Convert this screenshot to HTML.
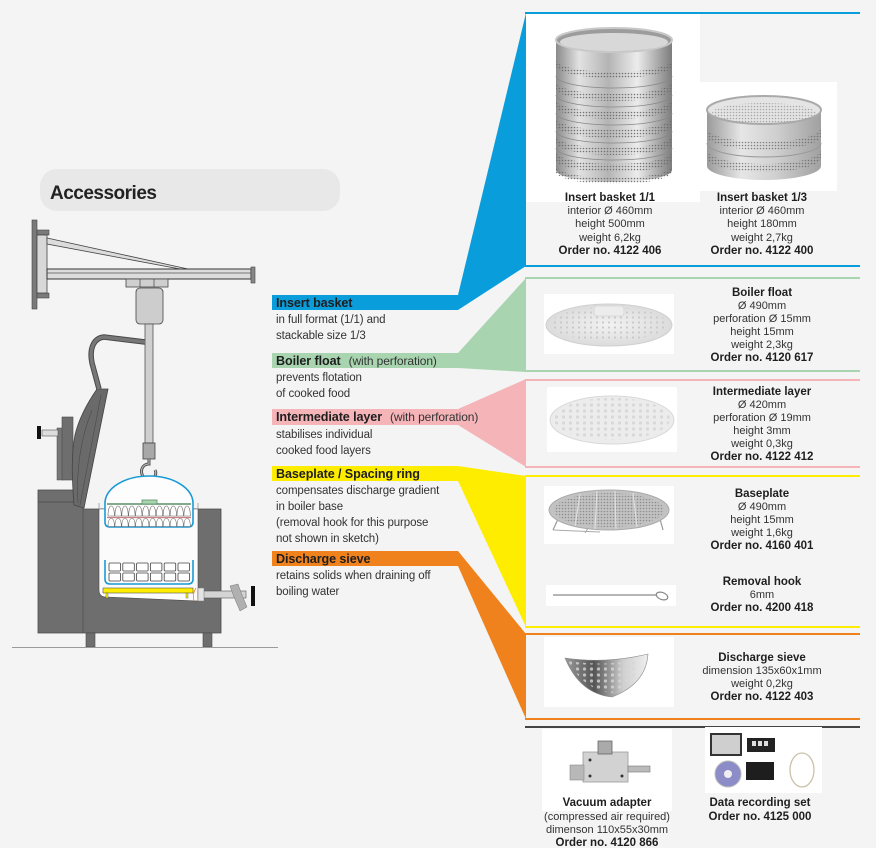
<!DOCTYPE html>
<html><head><meta charset="utf-8"><style>
html,body{margin:0;padding:0;background:#f4f4f4;}
svg{display:block;}
text{font-family:"Liberation Sans",Arial,sans-serif;}
.b{font-weight:bold;fill:#1e1e1e;}
.r{fill:#333;}
</style></head><body>
<svg width="876" height="848" viewBox="0 0 876 848" xmlns="http://www.w3.org/2000/svg">
<defs>
<pattern id="dots" width="3" height="3" patternUnits="userSpaceOnUse"><circle cx="1.5" cy="1.5" r="0.8" fill="#6a6a6a"/></pattern>
<pattern id="holes" width="6" height="5" patternUnits="userSpaceOnUse"><circle cx="3" cy="2.5" r="1.1" fill="#c9c9c9"/></pattern>
<pattern id="holes2" width="7" height="6" patternUnits="userSpaceOnUse"><circle cx="3.5" cy="3" r="1.6" fill="#d6d6d6"/></pattern>
<linearGradient id="metal" x1="0" y1="0" x2="1" y2="0">
<stop offset="0" stop-color="#8a8a8a"/><stop offset="0.2" stop-color="#e2e2e2"/><stop offset="0.45" stop-color="#b4b4b4"/><stop offset="0.7" stop-color="#ececec"/><stop offset="1" stop-color="#7c7c7c"/></linearGradient>
<linearGradient id="metal2" x1="0" y1="0" x2="1" y2="0">
<stop offset="0" stop-color="#9a9a9a"/><stop offset="0.3" stop-color="#e6e6e6"/><stop offset="0.6" stop-color="#d0d0d0"/><stop offset="1" stop-color="#a0a0a0"/></linearGradient>
<linearGradient id="sieve" x1="0" y1="0" x2="1" y2="0">
<stop offset="0" stop-color="#9a9a9a"/><stop offset="0.35" stop-color="#555"/><stop offset="0.7" stop-color="#cfcfcf"/><stop offset="1" stop-color="#eee"/></linearGradient>
<radialGradient id="disc" cx="0.5" cy="0.5" r="0.5"><stop offset="0" stop-color="#f2f2f2"/><stop offset="1" stop-color="#dcdcdc"/></radialGradient>
<path id="egg" d="M0,10 C0,3 1.6,0 3.2,0 C4.8,0 6.4,3 6.4,10 Z" fill="#fff" stroke="#666" stroke-width="0.6"/>
<path id="egg2" d="M0,8 C0,2 1.6,0 3.2,0 C4.8,0 6.4,2 6.4,8 Z" fill="#fff" stroke="#666" stroke-width="0.6"/>
</defs>

<!-- Heading -->
<rect x="40" y="169" width="300" height="42" rx="17" fill="#e8e8e8"/>
<text x="50" y="199" font-size="19" font-weight="bold" fill="#222" letter-spacing="-0.5">Accessories</text>

<!-- Crane -->
<rect x="32" y="220" width="5" height="89" fill="#7a7a7a" stroke="#444" stroke-width="0.6"/>
<rect x="37" y="230" width="12" height="5" fill="#7a7a7a" stroke="#444" stroke-width="0.6"/>
<rect x="37" y="293" width="12" height="5" fill="#7a7a7a" stroke="#444" stroke-width="0.6"/>
<rect x="37" y="235" width="10" height="58" fill="#d8d8d8" stroke="#444" stroke-width="0.8"/>
<polygon points="47,238 47,244 180,269 188,269" fill="#dcdcdc" stroke="#444" stroke-width="0.8"/>
<rect x="47" y="269" width="204" height="10" fill="#dcdcdc" stroke="#333" stroke-width="1"/>
<line x1="47" y1="273" x2="251" y2="273" stroke="#555" stroke-width="0.7"/>
<rect x="251" y="267" width="4" height="16" fill="#888" stroke="#444" stroke-width="0.6"/>
<rect x="126" y="279" width="42" height="8" fill="#cfcfcf" stroke="#444" stroke-width="0.8"/>
<line x1="140" y1="279" x2="140" y2="287" stroke="#444" stroke-width="0.7"/>
<line x1="154" y1="279" x2="154" y2="287" stroke="#444" stroke-width="0.7"/>
<rect x="136" y="288" width="27" height="36" rx="4" fill="#cdcdcd" stroke="#444" stroke-width="0.8"/>
<rect x="145" y="324" width="8" height="119" fill="#cfcfcf" stroke="#555" stroke-width="0.8"/>
<rect x="143" y="443" width="12" height="16" fill="#a8a8a8" stroke="#444" stroke-width="0.8"/>
<path d="M149,459 V464 C139,464 139,479 149,479 C155,479 157,474 155,470" fill="none" stroke="#555" stroke-width="3"/>
<path d="M149,459 V464 C139,464 139,479 149,479 C155,479 157,474 155,470" fill="none" stroke="#bbb" stroke-width="1"/>

<!-- Machine body -->
<path d="M38,490 H83 V509 H221 V633 H38 Z" fill="#6e6e6e" stroke="#4a4a4a" stroke-width="0.8"/>
<line x1="38" y1="502" x2="83" y2="502" stroke="#4a4a4a" stroke-width="0.7"/>
<line x1="83" y1="502" x2="83" y2="633" stroke="#4a4a4a" stroke-width="0.7"/>
<path d="M99,509 V590 Q99,597 106,597 L198,601 V509 Z" fill="#fbfbfb" stroke="#4a4a4a" stroke-width="0.6"/>
<line x1="99" y1="503" x2="99" y2="509" stroke="#999" stroke-width="0.8"/>
<line x1="198" y1="503" x2="198" y2="509" stroke="#999" stroke-width="0.8"/>
<rect x="86" y="633" width="9" height="14" fill="#6e6e6e" stroke="#4a4a4a" stroke-width="0.6"/>
<rect x="203" y="633" width="9" height="14" fill="#6e6e6e" stroke="#4a4a4a" stroke-width="0.6"/>
<line x1="12" y1="647.5" x2="278" y2="647.5" stroke="#9a9a9a" stroke-width="1"/>
<!-- lid -->
<rect x="57" y="428" width="6" height="52" fill="#777" stroke="#4a4a4a" stroke-width="0.5"/>
<rect x="62" y="417" width="11" height="63" fill="#6e6e6e" stroke="#4a4a4a" stroke-width="0.6"/>
<path d="M97,389 L108,389 L84,508 L74,505 C72,480 71,455 75,435 C79,418 88,402 97,389 Z" fill="#6a6a6a" stroke="#444" stroke-width="0.8"/>
<path d="M78,503 C76,470 80,440 92,410" fill="none" stroke="#4a4a4a" stroke-width="0.6"/>
<path d="M80,505 L101,395" fill="none" stroke="#4a4a4a" stroke-width="0.6"/>
<path d="M99,389 L92,363 C89,348 94,338 104,337 L145,342" fill="none" stroke="#4a4a4a" stroke-width="5.5"/>
<path d="M99,389 L92,363 C89,348 94,338 104,337 L145,342" fill="none" stroke="#777" stroke-width="3.5"/>
<!-- left tap -->
<rect x="42" y="430" width="16" height="6" fill="#ddd" stroke="#555" stroke-width="0.6"/>
<rect x="37" y="426" width="4" height="13" fill="#111"/>
<!-- right valve -->
<rect x="198" y="591" width="48" height="7" fill="#d4d4d4" stroke="#555" stroke-width="0.6"/>
<rect x="198" y="588" width="6" height="13" fill="#e4e4e4" stroke="#777" stroke-width="0.5"/>
<polygon points="230,586 238,584 242,595 247,607 240,611 234,597" fill="#b0b0b0" stroke="#777" stroke-width="0.5"/>
<rect x="251" y="586" width="4" height="20" fill="#111"/>
<!-- upper basket -->
<path d="M105,503 A44,27 0 0 1 193,503 V522 Q193,527 188,527 H110 Q105,527 105,522 Z" fill="#fdfdfd" stroke="#1a9ad6" stroke-width="1.6"/>
<line x1="107" y1="504" x2="191" y2="504" stroke="#5b8f66" stroke-width="1.6"/>
<rect x="142" y="500" width="15" height="4" fill="#a8d5b0" stroke="#5b8f66" stroke-width="0.8"/>
<use href="#egg" x="108" y="506"/><use href="#egg" x="114.9" y="506"/><use href="#egg" x="121.8" y="506"/><use href="#egg" x="128.7" y="506"/><use href="#egg" x="135.6" y="506"/><use href="#egg" x="142.5" y="506"/><use href="#egg" x="149.4" y="506"/><use href="#egg" x="156.3" y="506"/><use href="#egg" x="163.2" y="506"/><use href="#egg" x="170.1" y="506"/><use href="#egg" x="177" y="506"/><use href="#egg" x="183.9" y="506"/>
<line x1="107" y1="517.5" x2="191" y2="517.5" stroke="#d27f84" stroke-width="1.2"/>
<use href="#egg2" x="108" y="518.5"/><use href="#egg2" x="114.9" y="518.5"/><use href="#egg2" x="121.8" y="518.5"/><use href="#egg2" x="128.7" y="518.5"/><use href="#egg2" x="135.6" y="518.5"/><use href="#egg2" x="142.5" y="518.5"/><use href="#egg2" x="149.4" y="518.5"/><use href="#egg2" x="156.3" y="518.5"/><use href="#egg2" x="163.2" y="518.5"/><use href="#egg2" x="170.1" y="518.5"/><use href="#egg2" x="177" y="518.5"/><use href="#egg2" x="183.9" y="518.5"/>
<!-- lower basket -->
<path d="M105,560 V579 Q105,584 110,584 H188 Q193,584 193,579 V560" fill="none" stroke="#1a9ad6" stroke-width="1.6"/>
<g fill="#fff" stroke="#444" stroke-width="0.8">
<rect x="109" y="563" width="11.5" height="8" rx="1"/><rect x="122.8" y="563" width="11.5" height="8" rx="1"/><rect x="136.6" y="563" width="11.5" height="8" rx="1"/><rect x="150.4" y="563" width="11.5" height="8" rx="1"/><rect x="164.2" y="563" width="11.5" height="8" rx="1"/><rect x="178" y="563" width="11.5" height="8" rx="1"/>
<rect x="109" y="573" width="11.5" height="8" rx="1"/><rect x="122.8" y="573" width="11.5" height="8" rx="1"/><rect x="136.6" y="573" width="11.5" height="8" rx="1"/><rect x="150.4" y="573" width="11.5" height="8" rx="1"/><rect x="164.2" y="573" width="11.5" height="8" rx="1"/><rect x="178" y="573" width="11.5" height="8" rx="1"/>
</g>
<rect x="103" y="588" width="90" height="5" fill="#ffed00" stroke="#555" stroke-width="0.6"/>
<rect x="106" y="593" width="2" height="5" fill="#ffed00" stroke="#555" stroke-width="0.4"/>
<rect x="186" y="593" width="2" height="5" fill="#ffed00" stroke="#555" stroke-width="0.4"/>
<path d="M196,588 Q192,594 194,601" fill="none" stroke="#f0821e" stroke-width="0.8"/>

<!-- Connectors -->
<rect x="272" y="295" width="186" height="15" fill="#0a9ddb"/>
<polygon points="458,295 526,13 526,266 458,310" fill="#0a9ddb"/>
<rect x="272" y="353" width="186" height="15" fill="#a8d5b0"/>
<polygon points="458,353 526,278 526,372 458,368" fill="#a8d5b0"/>
<rect x="272" y="409" width="186" height="16" fill="#f4b4b8"/>
<polygon points="458,409 526,379 526,467 458,425" fill="#f4b4b8"/>
<rect x="272" y="466" width="186" height="15" fill="#ffed00"/>
<polygon points="458,466 526,476 526,627 458,481" fill="#ffed00"/>
<rect x="272" y="551" width="186" height="15" fill="#f0821e"/>
<polygon points="458,551 526,634 526,719 458,566" fill="#f0821e"/>

<!-- Panel borders -->
<rect x="525" y="12" width="335" height="2" fill="#0a9ddb"/><rect x="525" y="265" width="335" height="2" fill="#0a9ddb"/>
<rect x="525" y="277" width="335" height="2" fill="#a8d5b0"/><rect x="525" y="370" width="335" height="2" fill="#a8d5b0"/>
<rect x="525" y="379" width="335" height="2" fill="#f4b4b8"/><rect x="525" y="466" width="335" height="2" fill="#f4b4b8"/>
<rect x="525" y="475" width="335" height="2" fill="#ffed00"/><rect x="525" y="626" width="335" height="2" fill="#ffed00"/>
<rect x="525" y="633" width="335" height="2" fill="#f0821e"/><rect x="525" y="718" width="335" height="2" fill="#f0821e"/>
<rect x="525" y="726" width="335" height="2" fill="#444"/>

<!-- Left labels -->
<g font-size="11.5" class="r" letter-spacing="-0.1">
<text x="276" y="307" class="b" font-size="12.6">Insert basket</text>
<text x="276" y="323">in full format (1/1) and</text>
<text x="276" y="339">stackable size 1/3</text>
<text x="276" y="365"><tspan class="b" font-size="12.6">Boiler float</tspan><tspan dx="8" font-size="12">(with perforation)</tspan></text>
<text x="276" y="381">prevents flotation</text>
<text x="276" y="397">of cooked food</text>
<text x="276" y="421"><tspan class="b" font-size="12.6">Intermediate layer</tspan><tspan dx="8" font-size="12">(with perforation)</tspan></text>
<text x="276" y="438">stabilises individual</text>
<text x="276" y="454">cooked food layers</text>
<text x="276" y="478" class="b" font-size="12.6">Baseplate / Spacing ring</text>
<text x="276" y="494">compensates discharge gradient</text>
<text x="276" y="510">in boiler base</text>
<text x="276" y="526">(removal hook for this purpose</text>
<text x="276" y="542">not shown in sketch)</text>
<text x="276" y="563" class="b" font-size="12.6">Discharge sieve</text>
<text x="276" y="579">retains solids when draining off</text>
<text x="276" y="595">boiling water</text>
</g>

<!-- Images -->
<rect x="526" y="14" width="174" height="188" fill="#fff"/>
<rect x="700" y="82" width="137" height="109" fill="#fff"/>
<!-- basket 1/1 -->
<path d="M556,40 V170 A58,12 0 0 0 672,170 V40 Z" fill="url(#metal)"/>
<ellipse cx="614" cy="40" rx="58" ry="12" fill="#9c9c9c" stroke="#c8c8c8" stroke-width="2"/>
<ellipse cx="614" cy="42" rx="54" ry="9" fill="#d8d8d8"/>
<g fill="url(#dots)" opacity="0.9">
<path d="M556,60 A58,12 0 0 0 672,60 V66 A58,12 0 0 1 556,66 Z"/>
<path d="M556,82 A58,12 0 0 0 672,82 V89 A58,12 0 0 1 556,89 Z"/>
<path d="M556,100 A58,12 0 0 0 672,100 V107 A58,12 0 0 1 556,107 Z"/>
<path d="M556,118 A58,12 0 0 0 672,118 V126 A58,12 0 0 1 556,126 Z"/>
<path d="M556,136 A58,12 0 0 0 672,136 V143 A58,12 0 0 1 556,143 Z"/>
<path d="M556,152 A58,12 0 0 0 672,152 V160 A58,12 0 0 1 556,160 Z"/>
<path d="M556,166 A58,12 0 0 0 672,166 V172 A58,12 0 0 1 556,172 Z"/>
</g>
<g fill="none" stroke="#888" stroke-width="0.8">
<path d="M556,76 A58,12 0 0 0 672,76"/><path d="M556,95 A58,12 0 0 0 672,95"/><path d="M556,113 A58,12 0 0 0 672,113"/><path d="M556,131 A58,12 0 0 0 672,131"/><path d="M556,148 A58,12 0 0 0 672,148"/>
</g>
<!-- basket 1/3 -->
<path d="M707,110 V166 A57,14 0 0 0 821,166 V110 Z" fill="url(#metal2)"/>
<ellipse cx="764" cy="110" rx="57" ry="14" fill="#e4e4e4" stroke="#aaa" stroke-width="2"/>
<ellipse cx="764" cy="113" rx="52" ry="10" fill="url(#dots)" opacity="0.5"/>
<g fill="url(#dots)" opacity="0.8">
<path d="M707,128 A57,14 0 0 0 821,128 V136 A57,14 0 0 1 707,136 Z"/>
<path d="M707,150 A57,14 0 0 0 821,150 V158 A57,14 0 0 1 707,158 Z"/>
</g>
<path d="M707,143 A57,14 0 0 0 821,143" fill="none" stroke="#999" stroke-width="1"/>
<!-- boiler float -->
<rect x="544" y="294" width="130" height="60" fill="#fff"/>
<ellipse cx="609" cy="325" rx="63" ry="21" fill="url(#disc)" stroke="#d0d0d0" stroke-width="1"/>
<ellipse cx="609" cy="324" rx="58" ry="17" fill="url(#holes)"/>
<rect x="594" y="306" width="30" height="10" rx="3" fill="#ececec" stroke="#d4d4d4" stroke-width="0.8"/>
<!-- intermediate layer -->
<rect x="547" y="387" width="130" height="65" fill="#fff"/>
<ellipse cx="612" cy="420" rx="62" ry="24" fill="#ececec" stroke="#d8d8d8" stroke-width="1"/>
<ellipse cx="612" cy="419" rx="58" ry="21" fill="url(#holes2)" opacity="0.9"/>
<!-- baseplate -->
<rect x="544" y="486" width="130" height="58" fill="#fff"/>
<line x1="558" y1="519" x2="553" y2="530" stroke="#999" stroke-width="1.2"/>
<line x1="660" y1="519" x2="663" y2="530" stroke="#999" stroke-width="1.2"/>
<line x1="590" y1="525" x2="585" y2="533" stroke="#aaa" stroke-width="1"/>
<line x1="553" y1="530" x2="600" y2="532" stroke="#aaa" stroke-width="1"/>
<ellipse cx="609" cy="510" rx="60" ry="20" fill="#c2c2c2" stroke="#aaa" stroke-width="1"/>
<ellipse cx="609" cy="510" rx="55" ry="17" fill="url(#dots)" opacity="0.6"/>
<g stroke="#e0e0e0" stroke-width="1.2"><line x1="580" y1="494" x2="575" y2="526"/><line x1="597" y1="491" x2="595" y2="529"/><line x1="615" y1="491" x2="616" y2="529"/><line x1="633" y1="493" x2="637" y2="527"/></g>
<!-- removal hook -->
<rect x="546" y="585" width="130" height="21" fill="#fff"/>
<line x1="553" y1="595" x2="657" y2="595" stroke="#8a8a8a" stroke-width="1.2"/>
<ellipse cx="662" cy="596" rx="6" ry="3.5" fill="none" stroke="#8a8a8a" stroke-width="1.2" transform="rotate(20 662 596)"/>
<!-- discharge sieve -->
<rect x="544" y="637" width="130" height="70" fill="#fff"/>
<path d="M565,658 Q606,664 648,654 Q646,684 612,697 Q580,694 565,658 Z" fill="url(#sieve)" stroke="#888" stroke-width="0.6"/>
<path d="M568,661 Q606,667 640,659 Q636,684 612,693 Q584,690 568,661 Z" fill="url(#holes2)" opacity="0.8"/>
<!-- vacuum adapter -->
<rect x="542" y="729" width="130" height="82" fill="#fff"/>
<rect x="583" y="752" width="45" height="30" fill="#d2d2d2" stroke="#999" stroke-width="0.8"/>
<rect x="570" y="765" width="14" height="15" fill="#b8b8b8" stroke="#888" stroke-width="0.6"/>
<rect x="628" y="766" width="22" height="6" fill="#bbb" stroke="#777" stroke-width="0.6"/>
<rect x="598" y="741" width="14" height="13" fill="#aaa" stroke="#666" stroke-width="0.8"/>
<circle cx="590" cy="760" r="1.5" fill="#333"/><circle cx="590" cy="776" r="1.5" fill="#333"/><circle cx="622" cy="776" r="1.5" fill="#333"/>
<!-- data set -->
<rect x="705" y="727" width="117" height="66" fill="#fff"/>
<rect x="711" y="734" width="30" height="21" fill="#cfcfcf" stroke="#333" stroke-width="2"/>
<rect x="747" y="738" width="28" height="14" fill="#222"/>
<rect x="752" y="741" width="4" height="5" fill="#ddd"/><rect x="758" y="741" width="4" height="5" fill="#ddd"/><rect x="764" y="741" width="4" height="5" fill="#ddd"/>
<circle cx="728" cy="774" r="13" fill="#8c8cc8" stroke="#bbb" stroke-width="1"/>
<circle cx="728" cy="774" r="4" fill="#eee"/>
<rect x="746" y="762" width="28" height="18" fill="#1e1e1e"/>
<ellipse cx="802" cy="770" rx="12" ry="17" fill="none" stroke="#c9c1a8" stroke-width="1.3"/>

<!-- Right panel texts -->
<g text-anchor="middle" class="r" font-size="11">
<text x="610" y="201" class="b" font-size="11.5">Insert basket  1/1</text>
<text x="610" y="214">interior Ø 460mm</text>
<text x="610" y="227">height  500mm</text>
<text x="610" y="241">weight  6,2kg</text>
<text x="610" y="254" class="b" font-size="11.5">Order no. 4122 406</text>
<text x="762" y="201" class="b" font-size="11.5">Insert basket  1/3</text>
<text x="762" y="214">interior  Ø 460mm</text>
<text x="762" y="227">height 180mm</text>
<text x="762" y="241">weight 2,7kg</text>
<text x="762" y="254" class="b" font-size="11.5">Order no. 4122 400</text>

<text x="762" y="296" class="b" font-size="11.5">Boiler float</text>
<text x="762" y="309">Ø 490mm</text>
<text x="762" y="322">perforation Ø 15mm</text>
<text x="762" y="335">height  15mm</text>
<text x="762" y="348">weight  2,3kg</text>
<text x="762" y="361" class="b" font-size="11.5">Order no. 4120 617</text>

<text x="762" y="395" class="b" font-size="11.5">Intermediate layer</text>
<text x="762" y="408">Ø 420mm</text>
<text x="762" y="421">perforation Ø 19mm</text>
<text x="762" y="434">height  3mm</text>
<text x="762" y="447">weight  0,3kg</text>
<text x="762" y="460" class="b" font-size="11.5">Order no. 4122 412</text>

<text x="762" y="497" class="b" font-size="11.5">Baseplate</text>
<text x="762" y="510">Ø 490mm</text>
<text x="762" y="523">height 15mm</text>
<text x="762" y="536">weight 1,6kg</text>
<text x="762" y="549" class="b" font-size="11.5">Order no. 4160 401</text>

<text x="762" y="585" class="b" font-size="11.5">Removal hook</text>
<text x="762" y="598">6mm</text>
<text x="762" y="611" class="b" font-size="11.5">Order no. 4200 418</text>

<text x="762" y="661" class="b" font-size="11.5">Discharge sieve</text>
<text x="762" y="674">dimension 135x60x1mm</text>
<text x="762" y="687">weight 0,2kg</text>
<text x="762" y="700" class="b" font-size="11.5">Order no. 4122 403</text>

<text x="607" y="806" class="b" font-size="11.5">Vacuum adapter</text>
<text x="607" y="820">(compressed air required)</text>
<text x="607" y="833">dimenson 110x55x30mm</text>
<text x="607" y="846" class="b" font-size="11.5">Order no. 4120 866</text>

<text x="760" y="806" class="b" font-size="11.5">Data recording set</text>
<text x="760" y="820" class="b" font-size="11.5">Order no. 4125 000</text>
</g>
</svg>
</body></html>
